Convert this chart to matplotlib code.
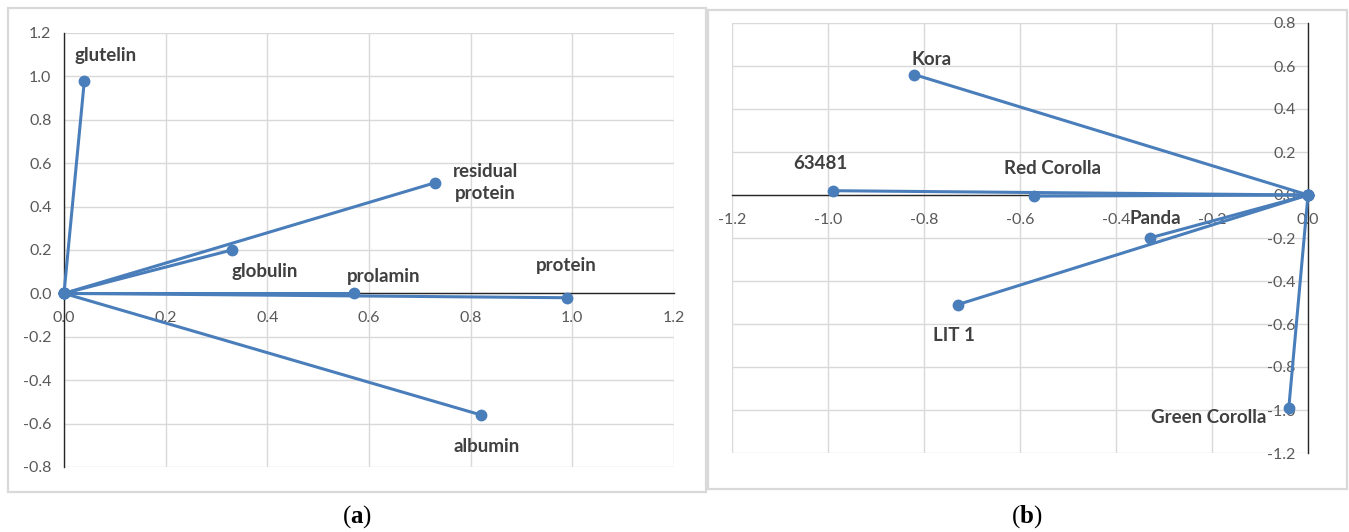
import matplotlib
matplotlib.use("Agg")
import matplotlib.pyplot as plt
from matplotlib.patches import Rectangle
from matplotlib.ticker import MultipleLocator, FormatStrFormatter

# ---------------- data ----------------
labels_a = ["glutelin", "residual\nprotein", "globulin", "prolamin", "protein", "albumin"]
x_a = [0.04, 0.73, 0.33, 0.57, 0.99, 0.82]
y_a = [0.98, 0.51, 0.20, 0.00, -0.02, -0.56]

labels_b = ["Kora", "63481", "Red Corolla", "Panda", "LIT 1", "Green Corolla"]
x_b = [-0.82, -0.99, -0.57, -0.33, -0.73, -0.04]
y_b = [0.56, 0.02, -0.005, -0.20, -0.51, -0.99]

origin = (0.0, 0.0)

# label offsets (pixels) relative to the end point
off_a = [(21, 25), (50, 0), (33, -22), (30, 17), (-1, 32), (6, -32)]
off_b = [(17, 15), (-12, 27), (18, 28), (6, 19), (-4, -31), (-80, -10)]

LINE = "#4A7EBB"
GRID = "#D9D9D9"
TICK = "#595959"
LAB = "#404040"
FONT = "Lato"

plt.rcParams["mathtext.fontset"] = "custom"
plt.rcParams["mathtext.bf"] = "Liberation Serif:bold"
plt.rcParams["mathtext.rm"] = "Liberation Serif"

W, H = 1349, 532
fig = plt.figure(figsize=(W / 100, H / 100), dpi=100)


def fr(l, t, r, b):
    return [l / W, 1 - b / H, (r - l) / W, (b - t) / H]


# chart borders
for (l, t, r, b) in [(8, 8, 706, 492), (708, 10, 1347, 489)]:
    fig.add_artist(Rectangle((l / W, 1 - b / H), (r - l) / W, (b - t) / H,
                             transform=fig.transFigure, fill=False,
                             edgecolor=GRID, linewidth=1.6, zorder=0))


def setup(ax, xlim, ylim):
    ax.set_xlim(*xlim)
    ax.set_ylim(*ylim)
    ax.xaxis.set_major_locator(MultipleLocator(0.2))
    ax.yaxis.set_major_locator(MultipleLocator(0.2))
    ax.xaxis.set_major_formatter(FormatStrFormatter("%.1f"))
    ax.yaxis.set_major_formatter(FormatStrFormatter("%.1f"))
    ax.grid(True, color=GRID, linewidth=1.0, zorder=0)
    ax.set_axisbelow(True)
    for s in ["top", "right"]:
        ax.spines[s].set_visible(False)
    ax.spines["left"].set_position(("data", 0))
    ax.spines["bottom"].set_position(("data", 0))
    for s in ["left", "bottom"]:
        ax.spines[s].set_color("#262626")
        ax.spines[s].set_linewidth(1.0)
        ax.spines[s].set_zorder(1)
    ax.tick_params(axis="both", length=0, labelcolor=TICK, labelsize=11.5)
    ax.tick_params(axis="x", pad=13)
    ax.tick_params(axis="y", pad=9)
    for t in ax.get_xticklabels() + ax.get_yticklabels():
        t.set_fontfamily(FONT)
    ax.patch.set_alpha(0)


def draw(ax, xs, ys, labels, offs):
    for x, y, lab, (dx, dy) in zip(xs, ys, labels, offs):
        ax.plot([origin[0], x], [origin[1], y], color=LINE, linewidth=2.2,
                marker="o", markersize=7.5, zorder=3, clip_on=False)
        ax.annotate(lab, (x, y), xytext=(dx, dy), textcoords="offset pixels",
                    ha="center", va="center", fontsize=13.5, color=LAB,
                    fontfamily=FONT, fontweight="bold", linespacing=1.35,
                    zorder=4)


ax1 = fig.add_axes(fr(64, 33, 674, 467))
setup(ax1, (0, 1.2), (-0.8, 1.2))
draw(ax1, x_a, y_a, labels_a, off_a)

ax2 = fig.add_axes(fr(732, 23, 1308, 453))
setup(ax2, (-1.2, 0), (-1.2, 0.8))
draw(ax2, x_b, y_b, labels_b, off_b)

fig.text(357 / W, 1 - 517 / H, r"($\mathbf{a}$)", ha="center", va="center",
         fontsize=18, fontfamily="Liberation Serif", color="black")
fig.text(1027 / W, 1 - 517 / H, r"($\mathbf{b}$)", ha="center", va="center",
         fontsize=18, fontfamily="Liberation Serif", color="black")

fig.savefig("out.png", dpi=100)
